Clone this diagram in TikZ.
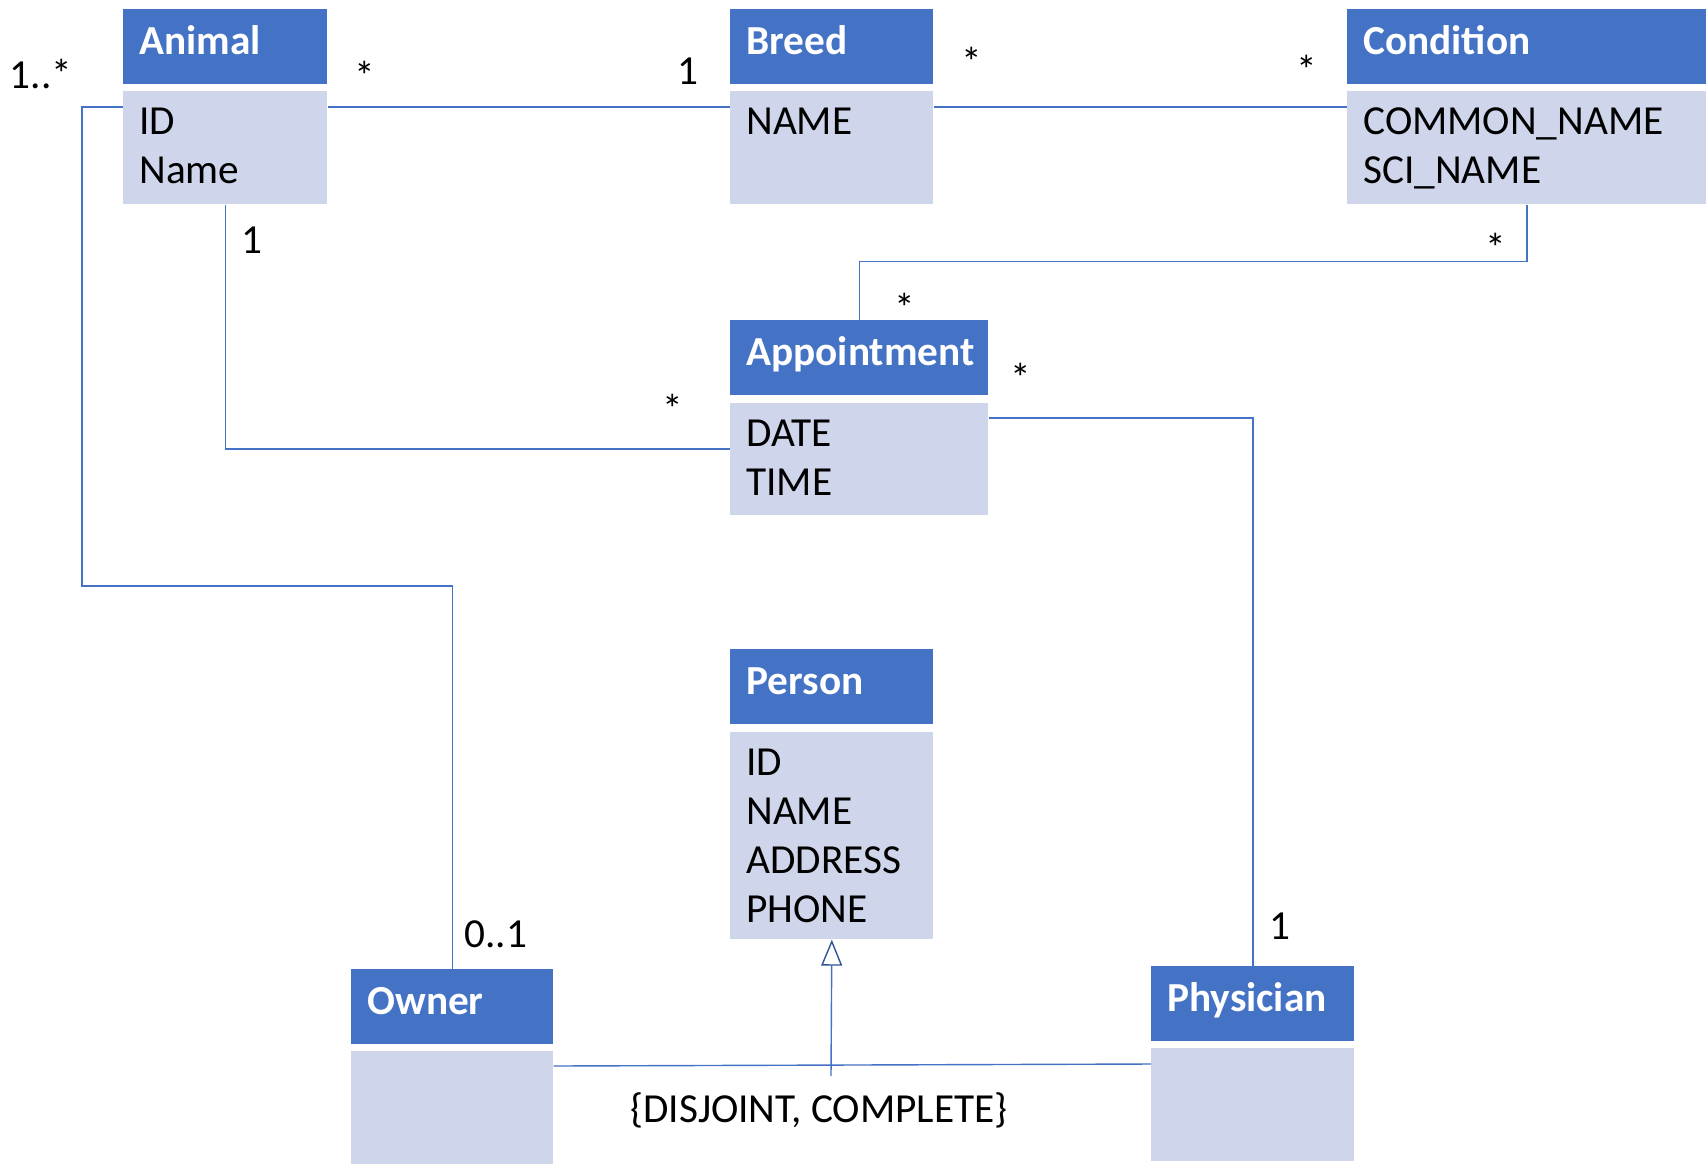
\documentclass[tikz,border=0pt]{standalone}
\usepackage{fontspec}
\setmainfont{Carlito}
\usetikzlibrary{arrows.meta,calc}
\definecolor{hdrblue}{HTML}{4472C4}
\definecolor{bodygrey}{HTML}{CFD5EA}
\definecolor{tipblue}{HTML}{2F5597}
\begin{document}
\begin{tikzpicture}[x=0.02cm, y=-0.02cm,
        every node/.style={font=\fontsize{23.5}{28}\selectfont},
        hdr/.style={anchor=north west, fill=hdrblue, text=white, font=\fontsize{23.5}{28}\selectfont\bfseries,
            inner xsep=0.32cm, inner ysep=0pt, text height=0.9cm, text depth=0.6cm, align=left},
        attrs/.style={anchor=north west, fill=bodygrey, inner xsep=0.32cm, inner ysep=0pt,
            text height=0.86cm, align=left},
        assoc/.style={draw=hdrblue, line width=0.8pt},
        mult/.style={inner sep=0pt}]
            \useasboundingbox (0,0) rectangle (1708,1171);

            \node[hdr, text width=3.44cm] (animalh) at (123,9) {Animal};
            \node[attrs, text width=3.44cm, text depth=1.4cm] (animalb) at (123,91) {ID\\Name};

            \node[hdr, text width=3.42cm] (breedh) at (730,9) {Breed};
            \node[attrs, text width=3.42cm, text depth=1.4cm] (breedb) at (730,91) {NAME};

            \node[hdr, text width=6.54cm] (condh) at (1347,9) {Condition};
            \node[attrs, text width=6.54cm, text depth=1.4cm] (condb) at (1347,91) {COMMON\_NAME\\SCI\_NAME};

            \node[hdr, text width=4.52cm] (appth) at (730,320) {Appointment};
            \node[attrs, text width=4.52cm, text depth=1.38cm] (apptb) at (730,403) {DATE\\TIME};

            \node[hdr, text width=3.42cm] (personh) at (730,649) {Person};
            \node[attrs, text width=3.42cm, text depth=3.28cm] (personb) at (730,732) {ID\\NAME\\ADDRESS\\PHONE};

            \node[hdr, text width=3.40cm] (ownerh) at (351,969) {Owner};
            \node[attrs, text width=3.40cm, text depth=1.4cm] (ownerb) at (351,1051) {};

            \node[hdr, text width=3.42cm] (physh) at (1151,966) {Physician};
            \node[attrs, text width=3.42cm, text depth=1.4cm] (physb) at (1151,1048) {};

            \coordinate (ownbend) at (82,586);
            \coordinate (genfoot) at (831,1076);

            \draw[assoc] ($(animalb.north east)+(0,16)$) -- ($(breedb.north west)+(0,16)$);
            \draw[assoc] ($(breedb.north east)+(0,16)$) -- ($(condb.north west)+(0,16)$);
            \draw[assoc] ($(animalb.north west)+(0,16)$) -| (ownbend) -| (ownerh.north);
            \draw[assoc] (animalb.south) |- ($(apptb.north west)+(0,46)$);
            \draw[assoc] (condb.south) -- ++(0,57) -| (appth.north);
            \draw[assoc] ($(apptb.north east)+(0,15)$) -| (physh.north);
            \draw[assoc] ($(ownerb.north east)+(0,15)$) -- ($(physb.north west)+(0,16)$);
            \draw[assoc, -{Triangle[open, length=0.52cm, width=0.42cm, color=tipblue]}] (genfoot) -- (personb.south);

            \node[mult] (m1) at (41,74) {1..*};
            \node[mult] (m2) at (365,76) {*};
            \node[mult] (m3) at (688,71) {1};
            \node[mult] (m4) at (972,62) {*};
            \node[mult] (m5) at (1307,70) {*};
            \node[mult] (m6) at (252,240) {1};
            \node[mult] (m7) at (1496,248) {*};
            \node[mult] (m8) at (905,308) {*};
            \node[mult] (m9) at (1021,378) {*};
            \node[mult] (m10) at (673,409) {*};
            \node[mult] (m11) at (496,934) {0..1};
            \node[mult] (m12) at (1280,926) {1};
            \node[mult] (gset) at (819,1110) {\{DISJOINT, COMPLETE\}};
\end{tikzpicture}
\end{document}
